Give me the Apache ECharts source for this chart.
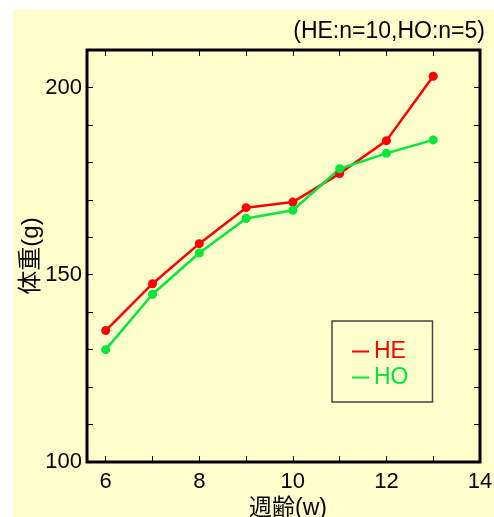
<!DOCTYPE html>
<html>
<head>
<meta charset="utf-8">
<script src="https://cdn.jsdelivr.net/npm/echarts@6/dist/echarts.min.js"></script>
<style>
  html, body { margin: 0; padding: 0; background: #fff; }
  #chart { width: 494px; height: 517px; }
</style>
</head>
<body>
<div id="chart"></div>
<script>
// 週齢
const weeks = [6, 7, 8, 9, 10, 11, 12, 13]
// 体重 (g)
const heWeight = [135.1, 147.6, 158.3, 167.9, 169.4, 177.0, 185.8, 203.0]
const hoWeight = [130.0, 144.8, 155.8, 165.0, 167.2, 178.3, 182.4, 186.0]
// 目盛り
const xTicks = [6, 7, 8, 9, 10, 11, 12, 13]
const xLabels = [6, 8, 10, 12, 14]
const yTicks = [110, 120, 130, 140, 150, 160, 170, 180, 190, 200]
const yLabels = [100, 150, 200]

const font = '"Liberation Sans", Arial, "Noto Sans CJK JP", sans-serif'
const chart = echarts.init(document.getElementById('chart'))

const tickStyle = {
  inside: true,
  length: 6,
  lineStyle: { color: '#000', width: 1 }
}

const option = {
  backgroundColor: '#fff',
  textStyle: { fontFamily: font },
  graphic: [
    {
      type: 'rect',
      z: -10,
      silent: true,
      shape: { x: 13, y: 10, width: 481, height: 507 },
      style: { fill: '#FFFFCC' }
    }
  ],
  title: {
    text: '(HE:n=10,HO:n=5)',
    right: 9,
    top: 20,
    padding: 0,
    textStyle: { color: '#000', fontSize: 23, fontWeight: 'normal', fontFamily: font }
  },
  legend: {
    orient: 'vertical',
    left: 332,
    top: 321,
    padding: [19, 24, 13, 20],
    itemGap: 3,
    itemWidth: 17,
    itemHeight: 2,
    icon: 'rect',
    borderColor: '#444',
    borderWidth: 1.5,
    textStyle: { fontSize: 23, fontFamily: font },
    data: [
      { name: 'HE', textStyle: { color: '#FF0000' } },
      { name: 'HO', textStyle: { color: '#00E83A' } }
    ]
  },
  grid: {
    left: 87,
    right: 14,
    top: 50,
    bottom: 55,
    outerBoundsMode: 'none',
    containLabel: false,
    show: true,
    borderColor: '#000',
    borderWidth: 3,
    backgroundColor: 'transparent'
  },
  xAxis: [
    {
      type: 'value',
      min: 5.6,
      max: 14,
      name: '週齢(w)',
      nameLocation: 'middle',
      nameGap: 35,
      nameMoveOverlap: false,
      nameTextStyle: { color: '#000', fontSize: 23, padding: [0, 0, 0, 9], fontFamily: font },
      axisLine: { show: false },
      splitLine: { show: false },
      axisTick: Object.assign({ customValues: xTicks }, tickStyle),
      axisLabel: { customValues: xLabels, color: '#000', fontSize: 22, margin: 9, fontFamily: font }
    },
    {
      type: 'value',
      position: 'top',
      min: 5.6,
      max: 14,
      axisLine: { show: false },
      splitLine: { show: false },
      axisTick: Object.assign({ customValues: xTicks }, tickStyle),
      axisLabel: { show: false }
    }
  ],
  yAxis: [
    {
      type: 'value',
      min: 100,
      max: 210,
      name: '体重(g)',
      nameLocation: 'middle',
      nameGap: 44,
      nameMoveOverlap: false,
      nameTextStyle: { color: '#000', fontSize: 24, fontFamily: font },
      axisLine: { show: false },
      splitLine: { show: false },
      axisTick: Object.assign({ customValues: yTicks }, tickStyle),
      axisLabel: { customValues: yLabels, color: '#000', fontSize: 22, margin: 5, padding: [4, 0, 0, 0], fontFamily: font }
    },
    {
      type: 'value',
      position: 'right',
      min: 100,
      max: 210,
      axisLine: { show: false },
      splitLine: { show: false },
      axisTick: Object.assign({ customValues: yTicks }, tickStyle),
      axisLabel: { show: false }
    }
  ],
  series: [
    {
      name: 'HE',
      type: 'line',
      data: weeks.map((w, i) => [w, heWeight[i]]),
      symbol: 'circle',
      symbolSize: 9,
      lineStyle: { color: '#FF0000', width: 2.5 },
      itemStyle: { color: '#FF0000' }
    },
    {
      name: 'HO',
      type: 'line',
      data: weeks.map((w, i) => [w, hoWeight[i]]),
      symbol: 'circle',
      symbolSize: 9,
      lineStyle: { color: '#00E83A', width: 2.5 },
      itemStyle: { color: '#00E83A' }
    }
  ]
}

chart.setOption(option)
</script>
</body>
</html>
